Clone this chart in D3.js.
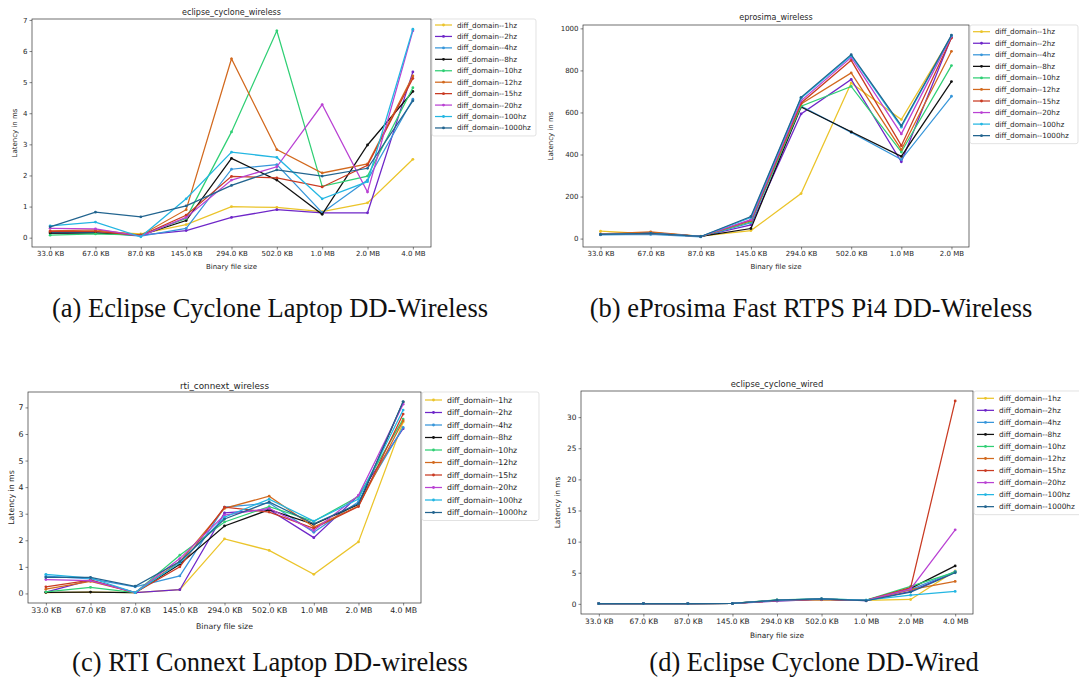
<!DOCTYPE html>
<html>
<head>
<meta charset="utf-8">
<script src="https://cdnjs.cloudflare.com/ajax/libs/d3/7.8.5/d3.min.js"></script>
<style>
  body { margin: 0; background: #fff; }
  svg { display: block; }
  text { fill: #262626; }
</style>
</head>
<body>
<svg id="chart" width="1079" height="690"></svg>
<script>
// categories
const sizes = ["33.0 KB", "67.0 KB", "87.0 KB", "145.0 KB", "294.0 KB", "502.0 KB", "1.0 MB", "2.0 MB", "4.0 MB"];
const sizesPi = sizes.slice(0, 8);

const seriesNames = ["diff_domain--1hz", "diff_domain--2hz", "diff_domain--4hz", "diff_domain--8hz",
    "diff_domain--10hz", "diff_domain--12hz", "diff_domain--15hz", "diff_domain--20hz",
    "diff_domain--100hz", "diff_domain--1000hz"];
const colors = ["#ebc42a", "#6e26c8", "#3796da", "#111111", "#2fcf74", "#d2691e", "#c93a22", "#b941d3", "#23b6e2", "#22648f"];

// latency in ms, one row per series (same order as seriesNames)
const cycloneWireless = [
    [0.15, 0.20, 0.12, 0.42, 1.00, 0.97, 0.84, 1.12, 2.52],
    [0.15, 0.17, 0.08, 0.23, 0.65, 0.90, 0.80, 0.80, 5.33],
    [0.18, 0.17, 0.05, 0.30, 2.20, 2.35, 0.80, 1.85, 4.45],
    [0.15, 0.15, 0.08, 0.55, 2.55, 1.85, 0.75, 2.98, 4.70],
    [0.08, 0.12, 0.08, 0.62, 3.40, 6.65, 1.65, 1.98, 4.82],
    [0.22, 0.25, 0.08, 0.90, 5.75, 2.83, 2.08, 2.37, 5.20],
    [0.20, 0.20, 0.07, 0.72, 1.97, 1.92, 1.63, 2.33, 5.12],
    [0.30, 0.28, 0.05, 0.65, 1.85, 2.28, 4.28, 1.47, 6.65],
    [0.38, 0.50, 0.03, 1.25, 2.75, 2.58, 1.25, 1.80, 6.70],
    [0.35, 0.82, 0.67, 1.02, 1.68, 2.18, 1.98, 2.23, 4.40]
];

const eprosimaWireless = [
    [35, 22, 12, 38, 214, 740, 566, 962],
    [20, 25, 10, 65, 593, 757, 365, 958],
    [18, 20, 8, 75, 630, 505, 376, 677],
    [20, 28, 10, 48, 626, 508, 391, 747],
    [20, 25, 10, 80, 630, 724, 412, 823],
    [22, 32, 10, 85, 640, 788, 423, 891],
    [20, 25, 10, 88, 645, 848, 442, 954],
    [20, 25, 10, 90, 655, 862, 498, 962],
    [20, 25, 10, 100, 668, 870, 530, 965],
    [20, 25, 10, 105, 672, 875, 537, 968]
];

const rtiWireless = [
    [0.03, 0.05, 0.03, 0.14, 2.05, 1.62, 0.72, 1.94, 6.45],
    [0.05, 0.50, 0.03, 0.14, 3.03, 3.15, 2.10, 3.68, 6.20],
    [0.65, 0.55, 0.25, 0.66, 3.25, 3.40, 2.30, 3.45, 6.25],
    [0.04, 0.05, 0.03, 1.10, 2.54, 3.15, 2.60, 3.35, 7.20],
    [0.06, 0.23, 0.03, 1.44, 2.69, 3.27, 2.71, 3.65, 6.56],
    [0.16, 0.45, 0.03, 1.20, 3.20, 3.66, 2.50, 3.29, 6.50],
    [0.25, 0.50, 0.03, 1.00, 3.25, 3.06, 2.45, 3.27, 6.75],
    [0.52, 0.48, 0.03, 1.31, 2.95, 3.20, 2.37, 3.69, 7.12],
    [0.72, 0.58, 0.03, 1.15, 2.87, 3.55, 2.72, 3.55, 6.90],
    [0.60, 0.60, 0.27, 1.20, 2.80, 3.44, 2.62, 3.37, 7.22]
];

const cycloneWired = [
    [0.05, 0.05, 0.04, 0.06, 0.50, 0.65, 0.55, 0.70, 5.30],
    [0.05, 0.05, 0.04, 0.06, 0.45, 0.70, 0.50, 2.00, 5.10],
    [0.05, 0.05, 0.04, 0.06, 0.55, 0.75, 0.55, 2.30, 5.20],
    [0.05, 0.05, 0.04, 0.06, 0.60, 0.75, 0.55, 2.50, 6.10],
    [0.05, 0.05, 0.04, 0.06, 0.65, 0.80, 0.60, 2.80, 5.10],
    [0.05, 0.05, 0.04, 0.06, 0.55, 0.70, 0.55, 2.30, 3.60],
    [0.05, 0.05, 0.04, 0.06, 0.55, 0.75, 0.55, 2.60, 32.6],
    [0.05, 0.05, 0.04, 0.06, 0.55, 0.75, 0.55, 2.40, 11.9],
    [0.05, 0.05, 0.04, 0.06, 0.60, 0.80, 0.60, 1.40, 2.00],
    [0.05, 0.05, 0.04, 0.06, 0.60, 0.80, 0.50, 1.90, 5.00]
];

const yTicksSmall = [0, 1, 2, 3, 4, 5, 6, 7];
const yTicksPi = [0, 200, 400, 600, 800, 1000];
const yTicksWired = [0, 5, 10, 15, 20, 25, 30];

const svg = d3.select("#chart");

function drawPanel(p) {
    const g = svg.append("g");

    const x = d3.scalePoint()
        .domain(p.cats)
        .range([p.x0, p.x1])
        .padding(p.pad);

    const y = d3.scaleLinear()
        .domain(p.yDomain)
        .range([p.y1, p.y0]);

    // axes
    g.append("g")
        .attr("transform", `translate(0,${p.y1})`)
        .call(d3.axisBottom(x).tickSize(2.5).tickPadding(2).tickSizeOuter(0))
        .call(a => a.select(".domain").remove())
        .selectAll("text")
        .style("font-size", p.fs + "px");

    g.append("g")
        .attr("transform", `translate(${p.x0},0)`)
        .call(d3.axisLeft(y).tickValues(p.yTicks).tickFormat(d3.format("d")).tickSize(2.5).tickPadding(2).tickSizeOuter(0))
        .call(a => a.select(".domain").remove())
        .selectAll("text")
        .style("font-size", p.fs + "px");

    g.selectAll(".tick line").attr("stroke", "#333").attr("stroke-width", 0.6);
    g.selectAll(".tick text").attr("font-family", "DejaVu Sans").style("fill", "#262626");

    // series
    const line = d3.line()
        .x((d, i) => x(p.cats[i]))
        .y(d => y(d));

    p.data.forEach((vals, s) => {
        g.append("path")
            .datum(vals)
            .attr("d", line)
            .attr("fill", "none")
            .attr("stroke", colors[s])
            .attr("stroke-width", 1.25);
        g.selectAll(null)
            .data(vals)
            .join("circle")
            .attr("cx", (d, i) => x(p.cats[i]))
            .attr("cy", d => y(d))
            .attr("r", 1.4)
            .attr("fill", colors[s]);
    });

    // frame
    g.append("rect")
        .attr("x", p.x0)
        .attr("y", p.y0)
        .attr("width", p.x1 - p.x0)
        .attr("height", p.y1 - p.y0)
        .attr("fill", "none")
        .attr("stroke", "#333")
        .attr("stroke-width", 0.7);

    g.append("text")
        .attr("x", (p.x0 + p.x1) / 2)
        .attr("y", p.titleY)
        .attr("text-anchor", "middle")
        .attr("dominant-baseline", "central")
        .attr("font-family", "DejaVu Sans")
        .style("font-size", (p.fs + 1) + "px")
        .text(p.title);

    g.append("text")
        .attr("x", (p.x0 + p.x1) / 2)
        .attr("y", p.xLabelY)
        .attr("text-anchor", "middle")
        .attr("dominant-baseline", "central")
        .attr("font-family", "DejaVu Sans")
        .style("font-size", p.fs + "px")
        .text("Binary file size");

    g.append("text")
        .attr("transform", `translate(${p.yLabelX},${(p.y0 + p.y1) / 2}) rotate(-90)`)
        .attr("text-anchor", "middle")
        .attr("dominant-baseline", "central")
        .attr("font-family", "DejaVu Sans")
        .style("font-size", p.fs + "px")
        .text("Latency in ms");

    // legend
    const lg = g.append("g").attr("transform", `translate(${p.x1 + 1},${p.y0})`);
    lg.append("rect")
        .attr("width", p.legW)
        .attr("height", p.legStart + p.legStep * 9 + 8)
        .attr("rx", 2)
        .attr("fill", "#fff")
        .attr("fill-opacity", 0.85)
        .attr("stroke", "#d6d6d6")
        .attr("stroke-width", 0.7);

    seriesNames.forEach((name, s) => {
        const ly = p.legStart + s * p.legStep;
        lg.append("line")
            .attr("x1", 3).attr("x2", 20)
            .attr("y1", ly).attr("y2", ly)
            .attr("stroke", colors[s])
            .attr("stroke-width", 1.25);
        lg.append("circle")
            .attr("cx", 11.5).attr("cy", ly).attr("r", 1.4)
            .attr("fill", colors[s]);
        lg.append("text")
            .attr("x", 25)
            .attr("y", ly)
            .attr("dominant-baseline", "central")
            .attr("font-family", "DejaVu Sans")
            .style("font-size", p.legFs + "px")
            .text(name);
    });

    svg.append("text")
        .attr("x", p.capX)
        .attr("y", p.capY)
        .attr("text-anchor", "middle")
        .attr("font-family", "Liberation Serif")
        .style("font-size", "26.5px")
        .style("fill", "#111")
        .text(p.caption);
}

drawPanel({
    cats: sizes, data: cycloneWireless, yDomain: [-0.3, 7.03], yTicks: yTicksSmall,
    x0: 32, x1: 431, y0: 19, y1: 247, pad: 0.4,
    title: "eclipse_cyclone_wireless", titleY: 12, xLabelY: 267, yLabelX: 14.5, fs: 7,
    legW: 104, legStart: 6, legStep: 11.44, legFs: 7.2,
    caption: "(a) Eclipse Cyclone Laptop DD-Wireless", capX: 270, capY: 317
});

drawPanel({
    cats: sizesPi, data: eprosimaWireless, yDomain: [-40, 1016], yTicks: yTicksPi,
    x0: 583, x1: 969, y0: 25, y1: 247, pad: 0.35,
    title: "eprosima_wireless", titleY: 17, xLabelY: 267, yLabelX: 550.5, fs: 7,
    legW: 108, legStart: 6.7, legStep: 11.55, legFs: 7.2,
    caption: "(b) eProsima Fast RTPS Pi4 DD-Wireless", capX: 811, capY: 317
});

drawPanel({
    cats: sizes, data: rtiWireless, yDomain: [-0.36, 7.58], yTicks: yTicksSmall,
    x0: 28, x1: 421, y0: 392, y1: 603, pad: 0.4,
    title: "rti_connext_wireless", titleY: 386, xLabelY: 626, yLabelX: 11, fs: 7.8,
    legW: 117, legStart: 8, legStep: 12.5, legFs: 7.8,
    caption: "(c) RTI Connext Laptop DD-wireless", capX: 270, capY: 671
});

drawPanel({
    cats: sizes, data: cycloneWired, yDomain: [-1.63, 34.2], yTicks: yTicksWired,
    x0: 581, x1: 973, y0: 391, y1: 614, pad: 0.4,
    title: "eclipse_cyclone_wired", titleY: 384, xLabelY: 635, yLabelX: 557, fs: 7.4,
    legW: 108, legStart: 7.3, legStep: 12.04, legFs: 7.4,
    caption: "(d) Eclipse Cyclone DD-Wired", capX: 814, capY: 671
});
</script>
</body>
</html>
